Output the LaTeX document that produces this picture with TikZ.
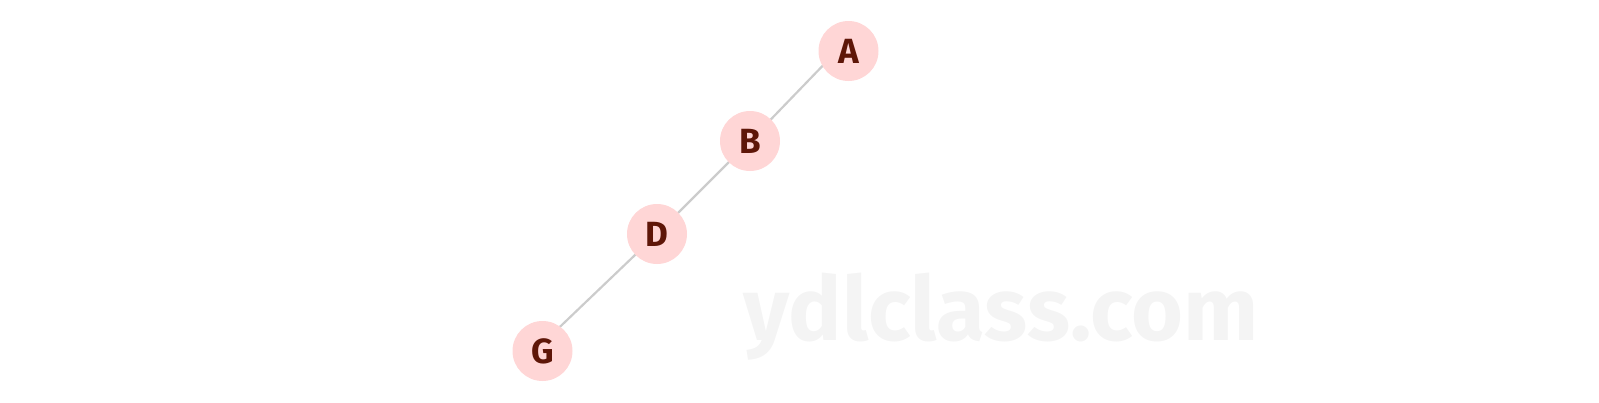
\documentclass[tikz,border=0pt]{standalone}
\usepackage{fontspec}
\setmainfont{Fira Sans}
\usetikzlibrary{positioning}
\definecolor{vertexColor}{RGB}{255,214,214}
\definecolor{labelColor}{RGB}{94,22,8}
\definecolor{edgeColor}{RGB}{204,204,204}
\definecolor{markColor}{RGB}{244,244,244}
\tikzset{vertex/.style={circle, fill=vertexColor, minimum size=60pt, inner sep=0pt, text=labelColor, font=\fontsize{35}{35}\selectfont\bfseries}}
\tikzset{edge/.style={draw=edgeColor, line width=2.2pt}}
\tikzset{watermark/.style={text=markColor, font=\fontsize{89}{89}\selectfont\bfseries, inner sep=0pt}}

\begin{document}
\begin{tikzpicture}[x=1pt, y=-1pt]
	\pgfdeclarelayer{background}
	\pgfsetlayers{background,main}
	\useasboundingbox (0,0) rectangle (1599,402);
	% Nodes
	\node (mark) [watermark, anchor=base] at (1001,340) {ydlclass.com};

		\node (a) [vertex] at (848.5,51) {A};
		\node (b) [vertex] at (750,141) {B};
		\node (d) [vertex] at (657,234) {D};
		\node (g) [vertex] at (542.5,351) {G};

		% Connectors
		\begin{pgfonlayer}{background}
		\draw [edge] (b.center) -- ([yshift=12pt]a.center);
		\draw [edge] (b.center) -- (d.center);
		\draw [edge] (d.center) -- ([yshift=7.5pt]g.center);
		\end{pgfonlayer}

\end{tikzpicture}
\end{document}
